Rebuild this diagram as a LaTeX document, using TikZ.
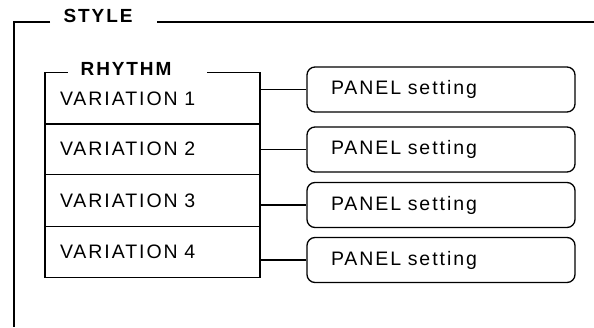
\documentclass[tikz,border=0pt]{standalone}
\usepackage{fontspec}
\setmainfont{Liberation Sans}[LetterSpace=10]
\usepackage{tikz}
\usetikzlibrary{positioning}

\begin{document}
\begin{tikzpicture}[x=1pt, y=-1pt, line width=1.3pt,
  varbox/.style={draw, rectangle, minimum width=215pt, minimum height=51.5pt,
    text width=185pt, inner xsep=15pt, align=left, font=\fontsize{19.5}{22}\selectfont},
  panelbox/.style={draw, rounded corners=8pt, minimum height=45pt,
    text width=220pt, inner xsep=24pt, align=left, font=\fontsize{19.5}{22}\selectfont},
  titlelabel/.style={anchor=base west, inner sep=0pt, font=\fontsize{19}{22}\selectfont\bfseries}]
  \useasboundingbox (0,0) rectangle (594,327);

  % Outer frame (open at right and bottom)
  \draw (50,22) -- (14,22) -- (14,327);
  \draw (157,22) -- (594,22);
  \node[titlelabel] (style) at (63,22) {STYLE};

  % Rhythm variations
  \foreach \i/\y in {1/98.5, 2/149, 3/200.5, 4/252}
    \node[varbox] (v\i) at (152.5,\y) {VARIATION \i};
  \fill[white] (68,69) rectangle (207,75);
  \node[titlelabel] (rhythm) at (80,75) {RHYTHM};

  % Panel settings
  \foreach \i/\y in {1/89.5, 2/149.5, 3/205, 4/260} {
    \node[panelbox] (p\i) at (441,\y) {PANEL setting};
    \draw (p\i.west) -- (p\i.west -| v\i.east);
  }
\end{tikzpicture}
\end{document}
